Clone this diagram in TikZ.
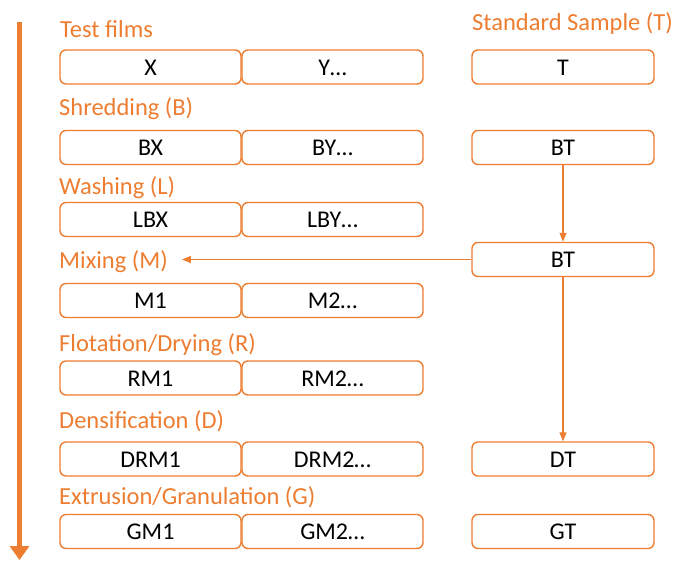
\documentclass[tikz,border=0pt]{standalone}
\usepackage{fontspec}
\setmainfont{Carlito}
\usetikzlibrary{arrows.meta}
\definecolor{org}{HTML}{ED7D31}
\tikzset{
  box/.style={draw=org, line width=1.4pt, rounded corners=6pt, minimum height=34pt,
    text height=16pt, text depth=0pt, inner sep=0pt, text=black,
    font=\fontsize{24}{28}\selectfont},
  lbox/.style={box, minimum width=181pt},
  rbox/.style={box, minimum width=182pt},
  lab/.style={anchor=base west, inner sep=0pt, text=org, font=\fontsize{24.5}{29}\selectfont},
  conn/.style={draw=org, line width=1.1pt, -{Triangle[length=9pt,width=7pt]}},
  big/.style={draw=org, line width=5.5pt, -{Triangle[length=14pt,width=19pt]}}
}
\begin{document}
\begin{tikzpicture}[x=1pt,y=-1pt]
\useasboundingbox (0,0) rectangle (676,560);
% main arrow
\coordinate (top) at (19.5,22);
\coordinate (bot) at (19.5,560);
\draw[big] (top) -- (bot);
% labels
\node[lab] (l1) at (60,37) {Test films};
\node[lab] (l0) at (472,30) {Standard Sample (T)};
\node[lab] (l2) at (59,115) {Shredding (B)};
\node[lab] (l3) at (59,194) {Washing (L)};
\node[lab] (mix) at (59,268) {Mixing (M)};
\node[lab] (l5) at (59,351) {Flotation/Drying (R)};
\node[lab] (l6) at (59,428) {Densification (D)};
\node[lab] (l7) at (59,504) {Extrusion/Granulation (G)};
% boxes
\node[lbox] (x1) at (150.5,67) {X};
\node[lbox] (y1) at (332.5,67) {Y…};
\node[rbox] (t1) at (563,67) {T};
\node[lbox] (x2) at (150.5,147.5) {BX};
\node[lbox] (y2) at (332.5,147.5) {BY…};
\node[rbox] (t2) at (563,147.5) {BT};
\node[lbox] (x3) at (150.5,219.5) {LBX};
\node[lbox] (y3) at (332.5,219.5) {LBY…};
\node[rbox] (t3) at (563,259.5) {BT};
\node[lbox] (x4) at (150.5,300.5) {M1};
\node[lbox] (y4) at (332.5,300.5) {M2…};
\node[lbox] (x5) at (150.5,378) {RM1};
\node[lbox] (y5) at (332.5,378) {RM2…};
\node[lbox] (x6) at (150.5,459) {DRM1};
\node[lbox] (y6) at (332.5,459) {DRM2…};
\node[rbox] (t6) at (563,459) {DT};
\node[lbox] (x7) at (150.5,531.5) {GM1};
\node[lbox] (y7) at (332.5,531.5) {GM2…};
\node[rbox] (t7) at (563,531.5) {GT};
% connectors
\draw[conn] (t2) -- (t3);
\draw[conn] (t3) -- (t6);
\draw[conn, shorten >=14pt] (t3.west) -- (t3.west -| mix.east);
\end{tikzpicture}
\end{document}
